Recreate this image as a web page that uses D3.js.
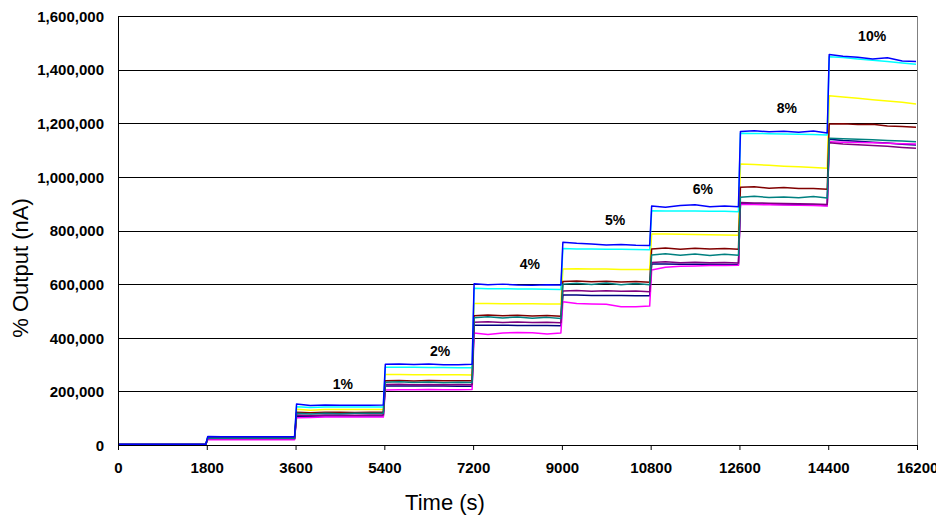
<!DOCTYPE html>
<html lang="en">
<head>
  <meta charset="UTF-8">
  <title>Output vs time</title>
  <script src="https://cdn.jsdelivr.net/npm/d3@7/dist/d3.min.js"></script>
  <style>
    body { margin: 0; background: #fff; }
    .chart svg { display: block; background: #fff; }
    .tick text { font-family: Arial, "Liberation Sans", sans-serif; font-weight: bold; font-size: 15px; fill: #000; }
  </style>
</head>
<body>
<div class="chart"></div>
<script>
// stage start times (s) and the sample offsets inside each 1800 s stage
const stageStarts = [0, 1800, 3600, 5400, 7200, 9000, 10800, 12600, 14400];
const sampleOffsets = [20, 300, 600, 900, 1200, 1500, 1780];

const xTicks = [0, 1800, 3600, 5400, 7200, 9000, 10800, 12600, 14400, 16200];
const yTicks = [0, 200000, 400000, 600000, 800000, 1000000, 1200000, 1400000, 1600000];

// step labels (time, value at label centre)
const stepLabels = ['1%', '2%', '4%', '5%', '6%', '8%', '10%'];
const stepLabelTime = [4560, 6530, 8350, 10080, 11860, 13560, 15290];
const stepLabelValue = [227000, 351000, 675000, 839000, 955000, 1257000, 1525000];

// values in thousands of nA, one row per stage, one column per sample offset
const navy = [
  [2,2,2,2,2,2,2],
  [23,23,23,23,23,23,23],
  [108,107,108,108,108,108,108],
  [220,220,220,220,220,219,219],
  [447,447,447,446,446,446,445],
  [559,559,558,558,558,557,557],
  [675,675,674,674,674,673,673],
  [900,899,898,897,896,895,893],
  [1140,1136,1133,1129,1126,1122,1119]
];
const magenta = [
  [2,2,2,2,2,2,2],
  [20,20,20,20,20,20,20],
  [102,103,104,104,104,104,104],
  [205,206,206,207,206,206,207],
  [418,412,418,420,419,414,418],
  [534,528,526,525,516,516,518],
  [653,663,667,668,669,669,670],
  [898,897,896,895,894,893,891],
  [1131,1129,1128,1127,1125,1124,1123]
];
const yellow = [
  [2,2,2,2,2,2,2],
  [28,28,28,28,28,28,28],
  [133,130,132,132,132,132,132],
  [263,263,262,262,262,262,261],
  [528,528,527,527,527,526,526],
  [656,657,656,656,655,655,655],
  [787,787,786,785,784,783,782],
  [1048,1046,1043,1040,1038,1035,1032],
  [1303,1298,1293,1288,1283,1278,1272]
];
const cyan = [
  [2,2,2,2,2,2,2],
  [30,30,30,30,30,30,30],
  [143,140,142,142,142,142,142],
  [290,290,290,289,289,288,288],
  [585,583,583,582,582,581,580],
  [733,731,731,730,730,729,728],
  [874,873,873,873,872,872,870],
  [1163,1162,1161,1160,1159,1158,1156],
  [1448,1445,1440,1435,1430,1425,1420]
];
const purple = [
  [2,2,2,2,2,2,2],
  [24,24,24,24,24,24,24],
  [112,110,112,112,111,112,112],
  [226,227,225,226,225,226,225],
  [458,460,457,459,457,458,456],
  [574,576,573,575,573,574,572],
  [681,683,680,682,680,681,679],
  [904,903,902,901,900,899,897],
  [1127,1123,1120,1117,1114,1110,1107]
];
const darkRed = [
  [2,2,2,2,2,2,2],
  [26,26,26,26,26,26,26],
  [122,120,122,122,121,122,122],
  [240,241,239,241,240,240,240],
  [482,485,482,484,481,483,480],
  [610,612,609,611,608,610,607],
  [731,735,730,734,731,733,730],
  [961,963,958,960,957,957,954],
  [1197,1198,1195,1196,1190,1188,1185]
];
const teal = [
  [2,2,2,2,2,2,2],
  [25,25,25,25,25,25,25],
  [118,116,118,117,118,118,118],
  [234,236,233,235,232,234,233],
  [475,478,474,477,473,476,472],
  [600,603,599,604,598,602,598],
  [709,713,708,712,707,711,708],
  [924,928,923,925,922,927,921],
  [1144,1142,1140,1138,1136,1134,1131]
];
const blue = [
  [3,3,3,3,3,3,3],
  [32,31,31,31,31,31,31],
  [153,147,149,148,148,148,149],
  [301,302,300,302,299,299,301],
  [601,598,600,597,596,598,597],
  [756,752,750,746,748,745,744],
  [891,887,893,896,889,891,889],
  [1169,1172,1168,1170,1166,1171,1164],
  [1456,1450,1446,1440,1444,1432,1430]
];

const series = [
  { color: '#000080', values: navy },
  { color: '#FF00FF', values: magenta },
  { color: '#FFFF00', values: yellow },
  { color: '#00FFFF', values: cyan },
  { color: '#800080', values: purple },
  { color: '#800000', values: darkRed },
  { color: '#008080', values: teal },
  { color: '#0000FF', values: blue }
];

const bxSize = {w: 936, h: 515};
const margin = {top: 16, right: 19, bottom: 70, left: 118};
const [width, height] = [bxSize.w - margin.left - margin.right, bxSize.h - margin.top - margin.bottom];

const root = d3.select('.chart').append('svg')
  .attr('width', bxSize.w).attr('height', bxSize.h);
const svg = root.append('g').attr('transform', `translate(${margin.left} ${margin.top})`);

const xScale = d3.scaleLinear().domain([0, 16200]).range([0, width]);
const yScale = d3.scaleLinear().domain([0, 1600000]).range([height, 0]);

// plot border
svg.append('rect').attr('width', width).attr('height', height)
  .attr('fill', 'none').attr('stroke', '#808080').attr('shape-rendering', 'crispEdges');

// gridlines
svg.append('g').selectAll('line').data(yTicks.slice(1)).enter().append('line')
  .attr('x1', 0).attr('x2', width)
  .attr('y1', d => Math.round(yScale(d)) + 0.5).attr('y2', d => Math.round(yScale(d)) + 0.5)
  .attr('stroke', '#000').attr('stroke-width', 1);

// lines
const toPoints = vals => {
  const pts = [];
  vals.forEach((row, si) => row.forEach((v, k) => pts.push([stageStarts[si] + sampleOffsets[k], v * 1000])));
  return pts;
};
const line = d3.line().x(d => xScale(d[0])).y(d => yScale(d[1]));
svg.append('g').selectAll('path').data(series).enter().append('path')
  .attr('d', d => line(toPoints(d.values)))
  .attr('fill', 'none').attr('stroke', d => d.color)
  .attr('stroke-width', 1.5).attr('stroke-linejoin', 'round');

// axes
const xAxis = d3.axisBottom(xScale).tickValues(xTicks).tickFormat(d3.format('d')).tickSize(5).tickSizeOuter(0).tickPadding(12);
const yAxis = d3.axisLeft(yScale).tickValues(yTicks).tickFormat(d3.format(',')).tickSize(0).tickPadding(14);
const xAxisNode = svg.append('g').attr('transform', `translate(0, ${height})`).call(xAxis);
const yAxisNode = svg.append('g').call(yAxis);
xAxisNode.select('.domain').attr('stroke', '#000');
yAxisNode.select('.domain').attr('stroke', '#000');
yAxisNode.selectAll('.tick text').attr('dy', '0.35em');

// step labels
svg.append('g').selectAll('text').data(stepLabels).enter().append('text')
  .attr('x', (d, i) => xScale(stepLabelTime[i]))
  .attr('y', (d, i) => yScale(stepLabelValue[i]))
  .attr('dy', '0.35em').attr('text-anchor', 'middle')
  .style('font-family', 'Arial, "Liberation Sans", sans-serif')
  .style('font-weight', 'bold').style('font-size', '14px')
  .text(d => d);

// axis titles
root.append('text').attr('x', 445).attr('y', 510)
  .attr('text-anchor', 'middle')
  .style('font-family', 'Arial, "Liberation Sans", sans-serif').style('font-size', '22px')
  .text('Time (s)');
root.append('text').attr('transform', 'translate(28, 268) rotate(-90)')
  .attr('text-anchor', 'middle')
  .style('font-family', 'Arial, "Liberation Sans", sans-serif').style('font-size', '22px')
  .text('% Output (nA)');
</script>
</body>
</html>
